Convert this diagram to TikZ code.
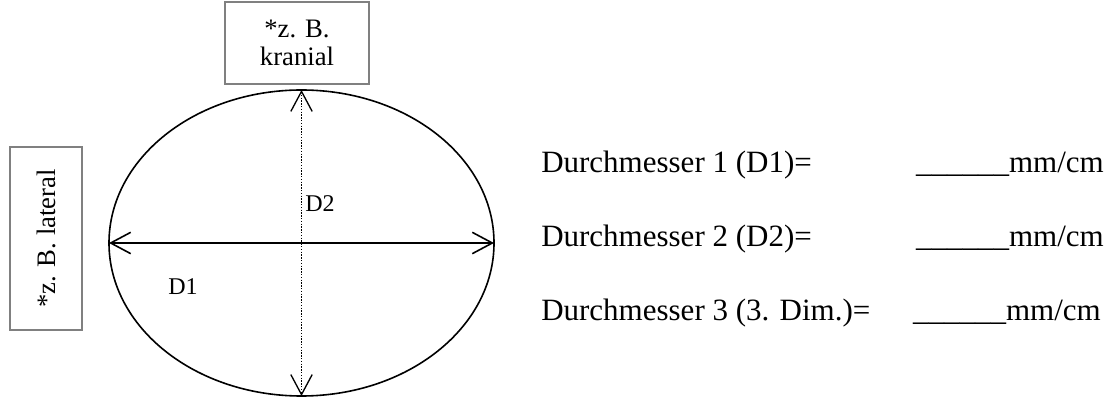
\documentclass[tikz,border=0pt]{standalone}
\usepackage{fontspec}
\setmainfont{Liberation Serif}
\usetikzlibrary{arrows.meta,shapes.geometric}

\begin{document}
\begin{tikzpicture}[x=0.75pt,y=0.75pt,yscale=-1,
    hint box/.style={draw={rgb, 255:red, 128; green, 128; blue, 128 },line width=1.2pt,inner sep=0pt,align=center,font=\fontsize{20}{21.5}\selectfont},
    dim tip/.style={{Straight Barb[length=15pt,width=16pt]}-{Straight Barb[length=15pt,width=16pt]},line width=1.2pt},
    dim label/.style={inner sep=0pt,font=\fontsize{18}{20}\selectfont},
    form text/.style={inner sep=0pt,font=\fontsize{23.25}{28}\selectfont}]

    % page frame
    \useasboundingbox (0,0) rectangle (1109,398);

    %Shape: Ellipse
    \node [ellipse,draw,line width=1.2pt,inner sep=0pt,outer sep=0pt,minimum width=288.75pt,minimum height=229.5pt] (oval) at (301.5,243) {};
    %Straight Lines
    \draw [dim tip] (oval.west) -- (oval.east) ;
    \draw [dim tip,line width=1pt,dash pattern=on 1pt off 1.1pt] (oval.north) -- (oval.south) ;

    % Text Node
    \node [hint box,minimum width=108pt,minimum height=61.5pt] (kranial) at (297,43) {*z. B.\\kranial};
    % Text Node
    \node [hint box,rotate=90,minimum width=137.25pt,minimum height=54pt] (lateral) at (46,238.5) {*z. B. lateral};
    % Text Node
    \node [dim label,anchor=base west] (dtwo) at (305,212) {D2};
    % Text Node
    \node [dim label,anchor=base west] (done) at (168,295) {D1};

    % Text Node
    \node [form text,anchor=base west] (dm1) at (541,173) {Durchmesser 1 (D1)=};
    \node [form text,anchor=base east] (unit1) at (1104,173) {\_\_\_\_\_\_mm/cm};
    % Text Node
    \node [form text,anchor=base west] (dm2) at (541,247) {Durchmesser 2 (D2)=};
    \node [form text,anchor=base east] (unit2) at (1104,247) {\_\_\_\_\_\_mm/cm};
    % Text Node
    \node [form text,anchor=base west] (dm3) at (541,321) {Durchmesser 3 (3. Dim.)=};
    \node [form text,anchor=base east] (unit3) at (1101,321) {\_\_\_\_\_\_mm/cm};

\end{tikzpicture}
\end{document}
